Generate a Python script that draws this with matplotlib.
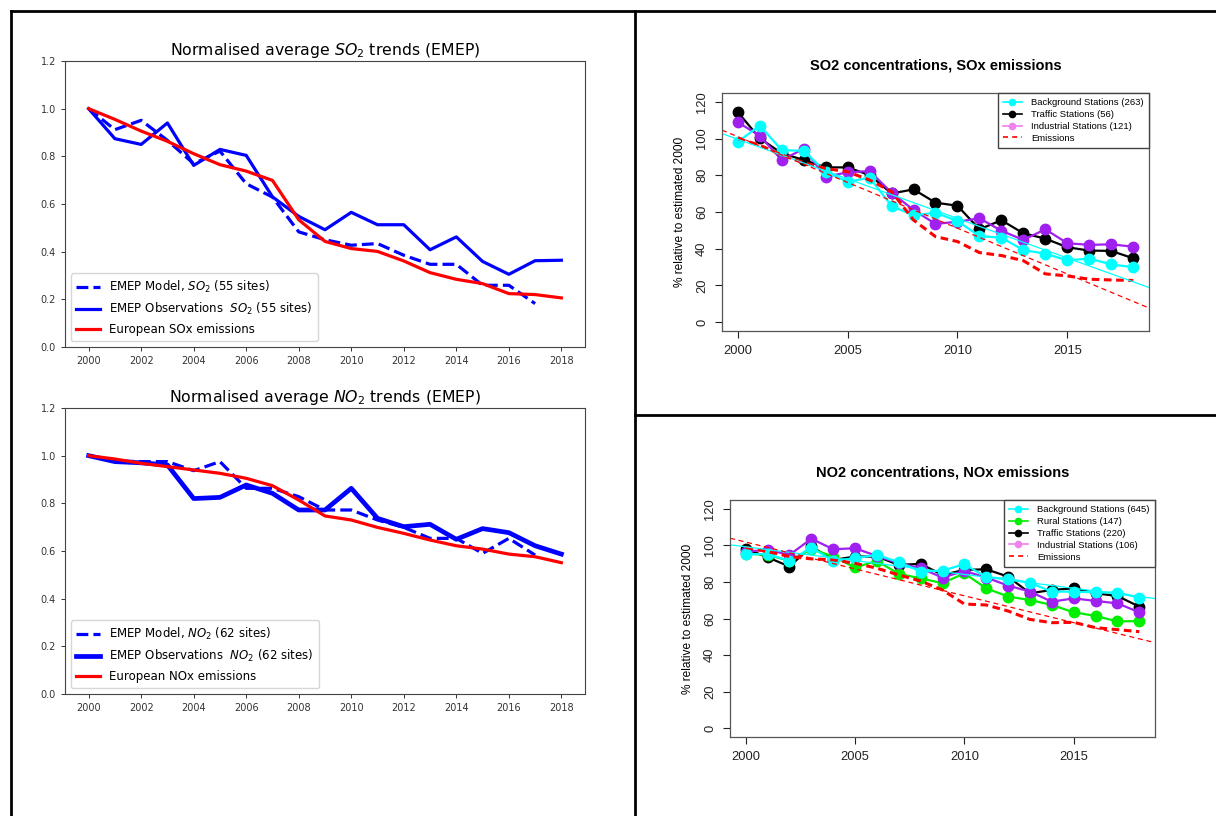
import matplotlib.pyplot as plt
from matplotlib.lines import Line2D

years = list(range(2000, 2019))
model_years = years[:-1]  # the EMEP model runs stop at 2017

# EMEP panels, normalised to 2000
so2_model = [1.0, 0.912, 0.951, 0.867, 0.769, 0.822, 0.685, 0.629, 0.483, 0.45,
             0.427, 0.434, 0.385, 0.347, 0.347, 0.259, 0.259, 0.182]
so2_obs = [1.0, 0.874, 0.85, 0.94, 0.762, 0.829, 0.804, 0.63, 0.548, 0.492,
           0.565, 0.513, 0.513, 0.408, 0.462, 0.359, 0.305, 0.362, 0.364]
sox_emis = [1.0, 0.955, 0.906, 0.863, 0.811, 0.765, 0.738, 0.699, 0.534, 0.443,
            0.413, 0.401, 0.361, 0.312, 0.284, 0.266, 0.224, 0.22, 0.206]

no2_model = [1.0, 0.978, 0.975, 0.975, 0.937, 0.975, 0.863, 0.863, 0.828, 0.772,
             0.772, 0.73, 0.699, 0.653, 0.653, 0.59, 0.653, 0.583]
no2_obs = [1.0, 0.975, 0.97, 0.961, 0.82, 0.825, 0.877, 0.842, 0.772, 0.772,
           0.863, 0.737, 0.702, 0.712, 0.649, 0.694, 0.677, 0.622, 0.587]
nox_emis = [1.0, 0.986, 0.968, 0.954, 0.94, 0.926, 0.905, 0.874, 0.814, 0.747,
            0.73, 0.699, 0.674, 0.646, 0.622, 0.608, 0.587, 0.576, 0.551]

# station panels, % relative to estimated 2000
so2_background = [98.2, 107.1, 93.7, 93.3, 81.9, 76.5, 78.7, 63.3, 58.2, 59.6,
                  55.1, 46.9, 46.0, 39.3, 37.3, 33.7, 34.6, 31.5, 29.9]
so2_traffic = [114.4, 100.1, 92.0, 88.3, 84.3, 84.3, 80.1, 70.1, 72.3, 65.1,
               63.4, 50.6, 55.5, 48.4, 45.5, 40.8, 39.0, 38.8, 34.8]
so2_industrial = [108.9, 101.5, 88.3, 94.4, 79.2, 81.6, 82.3, 70.5, 61.1, 53.5,
                  54.7, 56.6, 49.8, 44.8, 50.6, 43.0, 42.1, 42.4, 41.1]
so2_emissions = [100.0, 96.4, 91.0, 86.8, 83.7, 81.9, 77.4, 71.1, 55.6, 46.6,
                 43.9, 37.9, 36.3, 33.5, 26.3, 25.2, 23.4, 23.0, 22.7]
so2_trend_bg = [99.6, 22.0]   # fitted line at 2000 and 2018
so2_trend_em = [101.0, 11.3]

no2_background = [95.2, 95.2, 91.5, 98.8, 91.5, 93.0, 94.8, 90.8, 85.7, 86.2,
                  89.7, 82.6, 81.6, 79.5, 74.7, 74.7, 74.3, 74.2, 71.4]
no2_rural = [95.5, 94.8, 91.5, 98.1, 93.9, 87.9, 91.5, 84.4, 82.0, 79.3,
             84.7, 76.5, 72.0, 70.1, 67.4, 63.4, 61.4, 58.4, 58.6]
no2_traffic = [98.1, 93.5, 88.4, 99.4, 92.0, 93.9, 93.9, 89.3, 89.9, 83.8,
               86.6, 86.9, 82.9, 73.8, 75.6, 76.5, 73.8, 72.3, 66.5]
no2_industrial = [96.6, 97.5, 94.8, 103.6, 97.9, 98.4, 94.2, 90.2, 87.5, 82.4,
                  86.0, 82.4, 78.0, 74.7, 69.2, 71.0, 69.6, 68.3, 63.4]
no2_emissions = [98.8, 96.6, 93.9, 92.6, 92.1, 90.2, 87.5, 83.8, 80.5, 75.6,
                 67.9, 67.4, 64.1, 59.5, 57.7, 57.9, 55.0, 53.9, 52.8]
no2_trend_bg = [99.2, 72.0]
no2_trend_em = [101.8, 48.9]

W, H = 1216, 816
fig = plt.figure(figsize=(W / 100, H / 100), dpi=100)


def px_box(left, top, right, bottom):
    return [left / W, 1 - bottom / H, (right - left) / W, (bottom - top) / H]


# black frame lines separating the panels
def frame_line(x0, y0, x1, y1):
    fig.add_artist(Line2D([x0 / W, x1 / W], [1 - y0 / H, 1 - y1 / H],
                          transform=fig.transFigure, color='black', lw=2))


frame_line(11, 11, W, 11)
frame_line(11, 11, 11, H)
frame_line(635, 11, 635, H)
frame_line(635, 415, W, 415)


def emep_panel(ax, model, obs, emis, sp, n_sites, emis_label, obs_lw):
    ax.plot(model_years, model, color='blue', ls='--', lw=2.3,
            label=f'EMEP Model, ${sp}$ ({n_sites} sites)')
    ax.plot(years, obs, color='blue', lw=obs_lw,
            label=f'EMEP Observations  ${sp}$ ({n_sites} sites)')
    ax.plot(years, emis, color='red', lw=2.3, label=emis_label)
    ax.set_ylim(0, 1.2)
    ax.set_xticks(range(2000, 2019, 2))
    ax.set_yticks([0.0, 0.2, 0.4, 0.6, 0.8, 1.0, 1.2])
    ax.set_yticklabels([f'{v:.1f}' for v in ax.get_yticks()])
    ax.tick_params(labelsize=7, length=3, width=0.7, colors='#333')
    for s in ax.spines.values():
        s.set_color('#444')
        s.set_linewidth(0.8)
    ax.set_title(f'Normalised average ${sp}$ trends (EMEP)', fontsize=11.3, pad=4)
    ax.legend(loc='lower left', fontsize=8.5, handlelength=2.0, labelspacing=0.5,
              borderpad=0.45, framealpha=0.8)


ax1 = fig.add_axes(px_box(65, 61, 585, 347))
emep_panel(ax1, so2_model, so2_obs, sox_emis, 'SO_2', 55, 'European SOx emissions', 2.3)
ax2 = fig.add_axes(px_box(65, 408, 585, 694))
emep_panel(ax2, no2_model, no2_obs, nox_emis, 'NO_2', 62, 'European NOx emissions', 3.4)


def station_panel(ax, series, emis, trend_bg, trend_em, title, labels, legend_colors):
    for vals, color in series:
        ax.plot(years, vals, color=color, lw=1.6, marker='o', ms=7.5)
    ax.plot(years, emis, color='red', ls=(0, (2.5, 1.5)), lw=2.2)
    ax.axline((2000, trend_bg[0]), (2018, trend_bg[1]), color='cyan', lw=0.9)
    ax.axline((2000, trend_em[0]), (2018, trend_em[1]), color='red', lw=0.9,
              ls=(0, (4, 3)))
    ax.set_xlim(1999.28, 2018.72)
    ax.set_ylim(-4.8, 124.8)
    ax.set_xticks([2000, 2005, 2010, 2015])
    ax.set_yticks(range(0, 121, 20))
    ax.tick_params(labelsize=9.3, length=5, width=0.8, pad=5, colors='#222')
    plt.setp(ax.get_yticklabels(), rotation=90, va='center')
    for s in ax.spines.values():
        s.set_color('#555')
        s.set_linewidth(0.9)
    ax.set_ylabel('% relative to estimated 2000', fontsize=8.6, labelpad=7)
    ax.set_title(title, fontsize=10.5, fontweight='bold', pad=17)
    handles = [Line2D([], [], color=c, marker='o', ms=4.5, lw=1.2) for c in legend_colors]
    handles.append(Line2D([], [], color='red', lw=1.2, ls=(0, (3, 2.5))))
    ax.legend(handles, labels, loc='upper right', fontsize=6.8, fancybox=False,
              framealpha=1, edgecolor='#444', borderaxespad=0, handlelength=2.0,
              labelspacing=0.3, borderpad=0.55, handletextpad=1.0)


plt.rcParams['font.family'] = ['Liberation Sans', 'DejaVu Sans']

ax3 = fig.add_axes(px_box(722, 93, 1149, 331))
station_panel(ax3,
              [(so2_traffic, 'black'), (so2_industrial, '#A020F0'), (so2_background, 'cyan')],
              so2_emissions, so2_trend_bg, so2_trend_em,
              'SO2 concentrations, SOx emissions',
              ['Background Stations (263)', 'Traffic Stations (56)',
               'Industrial Stations (121)', 'Emissions'],
              ['cyan', 'black', 'violet'])

ax4 = fig.add_axes(px_box(730, 500, 1155, 737))
station_panel(ax4,
              [(no2_traffic, 'black'), (no2_rural, '#00EE00'),
               (no2_industrial, '#A020F0'), (no2_background, 'cyan')],
              no2_emissions, no2_trend_bg, no2_trend_em,
              'NO2 concentrations, NOx emissions',
              ['Background Stations (645)', 'Rural Stations (147)', 'Traffic Stations (220)',
               'Industrial Stations (106)', 'Emissions'],
              ['cyan', '#00EE00', 'black', 'violet'])

fig.savefig('out.png', dpi=100)
